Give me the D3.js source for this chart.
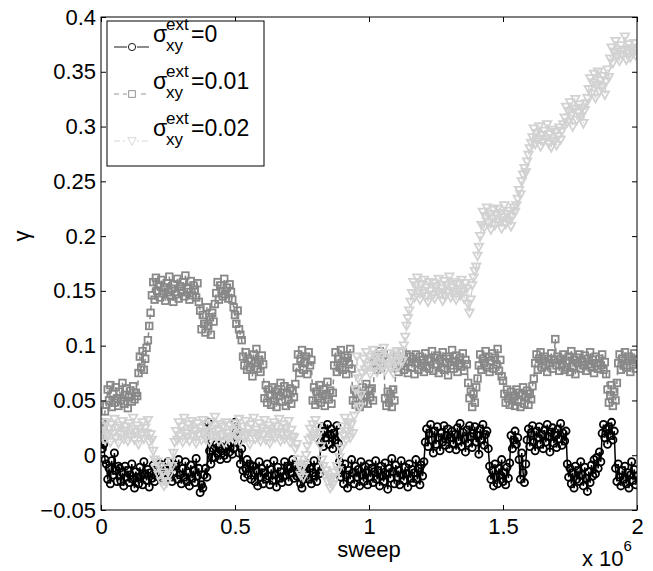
<!DOCTYPE html>
<html><head><meta charset="utf-8">
<script src="https://cdn.jsdelivr.net/npm/d3@7"></script>
<style>body{margin:0;background:#fff;} svg{display:block;font-family:"Liberation Sans",Arial,Helvetica,sans-serif;}</style>
</head><body><svg id="c" width="653" height="571"></svg>
<script>
// sampling interval (sweeps) between stored points
const sweepStep = 5000;

// sigma_xy^ext = 0  (black circles)
const gamma0 = [0.015,0.006,0.01,-0.004,
-0.008,-0.022,-0.012,-0.026,-0.005,-0.018,0.002,-0.014,-0.024,-0.01,
-0.012,-0.024,-0.016,-0.028,-0.01,-0.02,-0.014,-0.025,-0.018,-0.008,-0.022,-0.03,-0.015,-0.02,-0.026,-0.011,-0.019,-0.027,-0.006,-0.017,-0.023,-0.013,-0.029,-0.016,-0.021,-0.009,-0.024,-0.018,
-0.012,-0.02,-0.008,-0.016,-0.01,-0.022,-0.014,-0.018,-0.006,-0.019,-0.011,-0.024,-0.015,-0.009,
-0.01,-0.022,-0.004,-0.018,-0.026,-0.012,-0.02,-0.006,-0.024,-0.016,-0.028,-0.009,-0.021,-0.014,-0.025,-0.003,-0.019,-0.012,-0.034,-0.027,-0.03,-0.018,-0.012,-0.02,0.03,0.004,-0.008,-0.002,
0.006,-0.002,0.01,0.002,0.008,-0.004,0.004,0.012,0.0,0.007,-0.003,0.009,0.003,0.011,0.001,0.006,
0.03,0.022,0.012,0.002,-0.008,0.006,-0.014,-0.02,
-0.012,-0.004,-0.018,-0.008,-0.022,-0.01,
-0.01,-0.024,-0.014,-0.028,-0.006,-0.02,-0.012,-0.026,-0.016,-0.022,-0.008,-0.019,-0.027,-0.013,-0.023,-0.005,-0.018,-0.029,-0.011,-0.021,-0.015,-0.025,
-0.02,-0.006,-0.018,-0.01,-0.024,-0.012,-0.016,-0.004,-0.021,-0.009,-0.019,-0.013,
-0.018,-0.026,-0.03,-0.022,-0.016,-0.012,
-0.008,-0.022,-0.012,-0.026,-0.016,-0.005,-0.019,-0.024,-0.011,-0.017,
0.012,0.026,0.008,0.022,0.016,0.028,0.01,0.019,0.024,0.006,0.02,0.014,0.027,0.011,
-0.006,-0.02,-0.012,-0.026,-0.008,-0.018,-0.03,-0.014,-0.022,-0.004,
-0.016,-0.026,-0.01,-0.02,-0.013,-0.028,-0.006,-0.018,-0.024,-0.01,
-0.016,-0.027,-0.008,-0.02,-0.012,-0.025,-0.015,-0.005,-0.022,-0.014,
-0.028,-0.01,-0.019,-0.024,-0.007,-0.017,-0.031,-0.012,-0.021,-0.003,
-0.015,-0.026,-0.009,-0.02,-0.014,-0.027,-0.005,-0.018,-0.023,-0.011,
-0.017,-0.029,-0.008,-0.021,-0.013,-0.025,-0.016,-0.004,-0.022,-0.012,
-0.027,-0.009,-0.019,-0.006,
0.012,0.024,0.008,0.02,0.028,0.014,0.002,0.022,0.01,0.026,
0.016,0.004,0.02,0.012,0.027,0.009,0.018,0.024,0.006,0.016,
0.022,0.01,0.019,0.005,0.025,0.013,0.029,0.008,0.021,0.015,
0.003,0.023,0.011,0.027,0.017,0.007,0.02,0.026,0.012,0.018,
0.001,0.024,0.014,0.028,0.009,0.019,0.022,0.006,
-0.01,-0.022,-0.014,-0.028,-0.008,-0.02,-0.026,-0.012,-0.018,-0.004,-0.024,-0.016,-0.027,-0.011,-0.021,-0.007,
0.018,0.006,0.014,0.022,0.01,0.016,
-0.004,-0.022,0.002,-0.016,-0.025,-0.008,
0.014,0.024,0.008,0.02,0.027,0.012,0.004,0.022,0.016,0.026,
0.01,0.019,0.006,0.023,0.012,0.028,0.017,0.003,0.021,0.025,
0.011,0.018,0.007,0.024,0.015,0.029,0.009,0.02,0.013,0.022,
-0.008,-0.02,-0.012,-0.026,-0.016,-0.03,-0.01,-0.022,-0.014,-0.024,
-0.006,-0.018,-0.028,-0.011,-0.021,-0.033,-0.015,-0.025,-0.009,-0.019,
-0.004,-0.017,-0.002,-0.012,0.003,-0.006,
0.02,0.028,0.016,0.024,0.01,0.026,0.018,0.03,0.014,0.022,
-0.012,-0.024,-0.008,-0.02,-0.028,-0.014,-0.022,-0.01,-0.026,-0.016,-0.03,-0.018,-0.006,-0.023,-0.013,-0.027,-0.019];

// sigma_xy^ext = 0.01  (grey squares)
const gamma1 = [0.02,0.03,0.026,0.04,
0.046,0.06,0.05,0.064,0.044,0.056,0.048,0.062,0.052,0.045,0.058,0.05,0.066,0.047,0.055,0.061,0.043,0.053,0.059,0.049,0.063,0.051,0.057,0.054,
0.075,0.09,0.08,0.095,0.078,0.088,0.098,0.105,0.118,0.13,
0.146,0.158,0.142,0.162,0.15,0.155,0.144,0.16,0.148,0.153,0.141,0.157,0.149,0.163,0.145,0.152,0.14,0.156,0.147,0.161,0.143,0.154,0.15,0.158,0.145,0.164,0.149,0.152,0.142,0.159,0.146,0.155,0.151,0.144,0.157,0.14,
0.132,0.115,0.128,0.12,0.112,0.135,0.118,0.126,0.11,0.13,0.122,0.138,
0.148,0.158,0.142,0.155,0.15,0.145,0.161,0.147,0.153,0.143,0.156,0.149,
0.142,0.135,0.128,0.12,0.132,0.115,0.11,0.105,
0.09,0.082,0.094,0.078,0.088,0.08,0.086,0.072,0.092,0.084,0.097,0.079,0.087,0.076,0.091,0.083,
0.052,0.064,0.048,0.06,0.055,0.046,0.062,0.05,0.058,0.044,0.06,0.054,0.066,0.049,0.057,0.063,0.045,0.056,0.051,0.061,0.047,0.059,0.053,0.065,
0.08,0.092,0.075,0.088,0.096,0.078,0.085,0.09,0.074,0.094,0.082,0.087,
0.05,0.062,0.046,0.058,0.052,0.064,0.048,0.056,0.06,0.045,0.055,0.067,0.051,0.059,0.047,0.057,
0.082,0.094,0.076,0.088,0.08,0.096,0.078,0.086,0.091,0.074,0.089,0.083,0.097,0.079,
0.05,0.06,0.046,0.058,0.052,0.044,0.056,0.062,0.048,0.055,0.065,0.047,0.059,0.053,0.061,0.05,
0.084,0.09,0.078,0.088,0.095,0.08,0.087,0.092,
0.052,0.045,0.058,0.048,0.056,0.044,0.06,0.05,
0.08,0.09,0.076,0.088,0.082,0.094,0.078,0.086,0.092,0.075,
0.085,0.09,0.08,0.088,0.074,0.092,0.084,0.078,0.09,0.082,
0.087,0.076,0.093,0.081,0.088,0.079,0.086,0.095,0.077,0.089,
0.083,0.091,0.075,0.087,0.08,0.094,0.078,0.085,0.09,0.073,
0.088,0.082,0.096,0.079,0.086,0.091,0.076,0.084,0.089,0.081,
0.093,0.077,0.087,0.083,
0.066,0.052,0.058,0.044,0.056,0.048,0.062,0.07,
0.082,0.092,0.078,0.088,0.084,0.095,0.08,0.09,0.076,0.086,0.093,0.079,0.089,0.083,0.097,0.077,0.087,0.072,
0.068,0.056,0.048,0.06,0.052,0.046,0.058,0.05,0.054,0.045,0.06,0.049,0.057,0.044,0.055,0.062,0.047,0.053,0.059,0.046,0.056,0.051,0.063,0.07,
0.084,0.092,0.078,0.088,0.094,0.08,0.086,0.09,0.082,0.076,
0.088,0.084,0.093,0.079,0.087,0.106,0.082,0.09,0.077,0.088,
0.083,0.092,0.078,0.086,0.08,0.09,0.076,0.095,0.081,0.087,
0.074,0.089,0.084,0.092,0.079,0.086,0.082,0.091,0.077,0.088,
0.083,0.094,0.08,0.087,0.075,0.09,0.084,0.079,0.088,0.082,
0.092,0.078,0.085,0.074,
0.06,0.048,0.055,0.064,0.045,0.058,0.05,0.066,
0.084,0.092,0.078,0.088,0.082,0.094,0.08,0.086,0.09,0.076,0.088,0.083,0.093,0.079,0.087];

// sigma_xy^ext = 0.02  (light grey triangles)
const gamma2 = [0.02,0.016,
0.026,0.014,0.03,0.018,0.024,0.012,0.028,0.02,0.033,0.016,0.025,0.011,0.027,0.019,0.031,0.015,0.022,0.026,0.013,0.029,0.017,0.023,0.034,0.014,0.021,0.027,0.01,0.024,0.018,0.03,0.015,0.025,0.02,0.032,0.012,0.019,
0.014,0.004,-0.004,-0.012,-0.006,-0.018,-0.01,-0.024,-0.016,-0.028,-0.02,-0.025,-0.012,-0.018,-0.006,-0.01,0.002,0.012,
0.022,0.014,0.03,0.018,0.026,0.012,0.034,0.02,0.016,0.028,
0.013,0.024,0.031,0.017,0.022,0.011,0.029,0.019,0.025,0.014,
0.032,0.02,0.015,0.027,0.021,0.012,0.03,0.018,0.024,0.035,
0.016,0.022,0.013,0.028,0.019,0.026,0.011,0.03,0.02,0.015,
0.027,0.017,0.023,0.029,0.014,0.025,0.019,0.033,0.012,0.021,
0.026,0.016,0.031,0.018,0.024,0.01,0.028,0.02,0.034,0.015,
0.023,0.017,0.029,0.013,0.025,0.019,0.032,0.014,0.022,0.027,
0.011,0.024,0.018,0.03,0.016,0.026,0.021,0.033,0.013,0.02,
0.028,0.015,0.025,0.019,0.031,0.012,0.023,0.017,
0.016,0.006,0.01,-0.004,-0.01,-0.018,-0.012,-0.02,-0.008,0.0,0.008,0.014,
0.024,0.016,0.028,0.018,0.032,0.014,0.026,0.02,
0.008,-0.004,-0.01,-0.018,-0.014,-0.024,-0.02,-0.03,-0.022,-0.027,-0.016,-0.021,-0.01,-0.014,-0.002,0.006,
0.026,0.018,0.034,0.014,0.022,0.03,0.016,0.028,0.02,0.036,
0.06,0.09,0.07,0.044,0.055,0.075,
0.088,0.078,0.094,0.082,0.09,0.074,0.086,0.096,0.08,0.088,
0.076,0.092,0.084,0.09,0.08,0.098,0.077,0.087,0.083,0.093,
0.079,0.089,0.075,0.091,0.085,0.095,0.081,0.088,0.094,0.086,
0.1,0.108,0.118,0.125,0.132,0.14,
0.148,0.158,0.144,0.155,0.162,0.15,0.142,0.156,0.148,0.16,
0.145,0.153,0.14,0.158,0.15,0.146,0.157,0.143,0.154,0.149,
0.161,0.147,0.152,0.141,0.159,0.145,0.155,0.15,0.163,0.144,
0.153,0.148,0.158,0.142,0.156,0.151,0.146,0.16,0.149,0.143,
0.157,0.152,0.138,0.13,0.142,0.155,0.162,0.168,
0.172,0.182,0.19,0.2,
0.21,0.222,0.208,0.218,0.226,0.212,0.22,0.206,0.216,0.224,
0.21,0.219,0.225,0.213,0.221,0.207,0.217,0.228,0.211,0.22,
0.214,0.223,0.209,0.218,0.226,0.222,
0.228,0.234,0.242,0.238,0.25,0.256,0.262,0.258,0.268,0.274,0.28,0.285,
0.29,0.298,0.284,0.294,0.288,0.3,0.282,0.292,0.286,0.296,0.289,0.302,0.285,0.293,0.281,0.297,0.287,0.295,0.283,0.291,0.299,0.288,0.296,0.302,
0.308,0.318,0.304,0.314,0.322,0.31,0.3,0.316,0.325,0.306,0.313,0.32,0.309,0.317,0.303,0.315,0.321,0.326,
0.334,0.344,0.33,0.34,0.348,0.326,0.338,0.35,0.332,0.342,0.336,0.346,0.329,0.341,0.352,0.345,
0.362,0.372,0.358,0.368,0.378,0.364,0.37,0.36,0.374,0.366,0.37,0.382,0.361,0.369,0.375,0.363,0.371,0.367,0.376,0.365,0.369];

const seriesValues = [gamma0, gamma1, gamma2];
const seriesLabels = ["0", "0.01", "0.02"];
const xTicks = [0, 500000, 1000000, 1500000, 2000000];
const xTickLabels = ["0", "0.5", "1", "1.5", "2"];
const yTicks = [-0.05, 0, 0.05, 0.1, 0.15, 0.2, 0.25, 0.3, 0.35, 0.4];
const yTickLabels = ["\u22120.05", "0", "0.05", "0.1", "0.15", "0.2", "0.25", "0.3", "0.35", "0.4"];

const W = 653, H = 571;
const m = {l: 101, r: 16, t: 17, b: 61};
const svg = d3.select("#c");
const x = d3.scaleLinear().domain([0, 2000000]).range([m.l, W - m.r]);
const y = d3.scaleLinear().domain([-0.05, 0.4]).range([H - m.b, m.t]);

const styles = [
  {color: "#000000", dash: null, marker: "circle"},
  {color: "#888888", dash: "5,4", marker: "square"},
  {color: "#d2d2d2", dash: "6,3,2,3", marker: "triangle"}
];

function drawMarker(g, type, color, sw) {
  if (type === "circle") {
    g.append("circle").attr("r", 3.6).attr("fill", "none").attr("stroke", color).attr("stroke-width", sw);
  } else if (type === "square") {
    g.append("rect").attr("x", -3.3).attr("y", -3.3).attr("width", 6.6).attr("height", 6.6)
      .attr("fill", "none").attr("stroke", color).attr("stroke-width", sw);
  } else {
    g.append("path").attr("d", "M-4.2,-3.3L4.2,-3.3L0,4.3Z").attr("fill", "none").attr("stroke", color).attr("stroke-width", sw);
  }
}

const plot = svg.append("g");
plot.append("clipPath").attr("id", "clip").append("rect")
  .attr("x", m.l).attr("y", m.t).attr("width", W - m.l - m.r).attr("height", H - m.t - m.b);
const inner = plot.append("g").attr("clip-path", "url(#clip)");

seriesValues.forEach((vals, s) => {
  const st = styles[s];
  const pts = vals.map((v, i) => [i * sweepStep, v]);
  const line = d3.line().x(d => x(d[0])).y(d => y(d[1]));
  const gs = inner.append("g");
  gs.append("path").attr("d", line(pts)).attr("fill", "none").attr("stroke", st.color)
    .attr("stroke-width", 1.5).attr("stroke-dasharray", st.dash);
  pts.forEach(p => {
    const g = gs.append("g").attr("transform", `translate(${x(p[0])},${y(p[1])})`);
    drawMarker(g, st.marker, st.color, 1.8);
  });
});

// axes (MATLAB-style box with inward ticks)
const fs = 22;
const ax = svg.append("g");
ax.append("g").attr("transform", `translate(0,${H - m.b})`)
  .call(d3.axisBottom(x).tickValues(xTicks).tickFormat((d, i) => xTickLabels[i]).tickSizeInner(-5).tickSizeOuter(0).tickPadding(8));
ax.append("g").attr("transform", `translate(0,${m.t})`)
  .call(d3.axisTop(x).tickValues(xTicks).tickFormat("").tickSizeInner(-5).tickSizeOuter(0));
ax.append("g").attr("transform", `translate(${m.l},0)`)
  .call(d3.axisLeft(y).tickValues(yTicks).tickFormat((d, i) => yTickLabels[i]).tickSizeInner(-5).tickSizeOuter(0).tickPadding(5));
ax.append("g").attr("transform", `translate(${W - m.r},0)`)
  .call(d3.axisRight(y).tickValues(yTicks).tickFormat("").tickSizeInner(-5).tickSizeOuter(0));
ax.selectAll(".domain").remove();
ax.selectAll("g").attr("font-size", null).attr("font-family", null);
ax.selectAll("text").attr("fill", "#000").style("font-size", fs + "px").style("font-family", "'Liberation Sans', Arial, sans-serif");
ax.selectAll(".tick line").attr("stroke", "#000");
svg.append("rect").attr("x", m.l).attr("y", m.t).attr("width", W - m.l - m.r).attr("height", H - m.t - m.b)
  .attr("fill", "none").attr("stroke", "#000").attr("stroke-width", 1);

// axis labels
svg.append("text").attr("x", (m.l + W - m.r) / 2).attr("y", 557).attr("text-anchor", "middle")
  .attr("font-size", fs).text("sweep");
const mult = svg.append("text").attr("x", 582).attr("y", 566).attr("font-size", fs);
mult.append("tspan").text("x 10");
mult.append("tspan").attr("dy", -15).attr("font-size", 15).text("6");
svg.append("text").attr("transform", "translate(29,236) rotate(-90)").attr("text-anchor", "middle")
  .attr("font-size", 22).text("\u03b3");

// legend
const lg = svg.append("g");
lg.append("rect").attr("x", 107).attr("y", 21).attr("width", 157).attr("height", 145)
  .attr("fill", "#fff").attr("stroke", "#000").attr("stroke-width", 1);
seriesLabels.forEach((lab, s) => {
  const st = styles[s];
  const yb = 42 + 47 * s;
  lg.append("line").attr("x1", 114).attr("x2", 149).attr("y1", yb + 5).attr("y2", yb + 5)
    .attr("stroke", st.color).attr("stroke-width", 0.9).attr("stroke-dasharray", st.dash);
  const mg = lg.append("g").attr("transform", `translate(132,${yb + 5})`);
  mg.append("rect").attr("x", -5).attr("y", -5).attr("width", 10).attr("height", 10).attr("fill", "#fff");
  drawMarker(mg, st.marker, st.color, 0.9);
  lg.append("text").attr("x", 153).attr("y", yb).attr("font-size", 23).text("\u03c3");
  lg.append("text").attr("x", 166).attr("y", yb - 12).attr("font-size", 17).text("ext");
  lg.append("text").attr("x", 166).attr("y", yb + 9).attr("font-size", 17).text("xy");
  lg.append("text").attr("x", 191).attr("y", yb).attr("font-size", 23).text("=" + lab);
});
</script></body></html>
